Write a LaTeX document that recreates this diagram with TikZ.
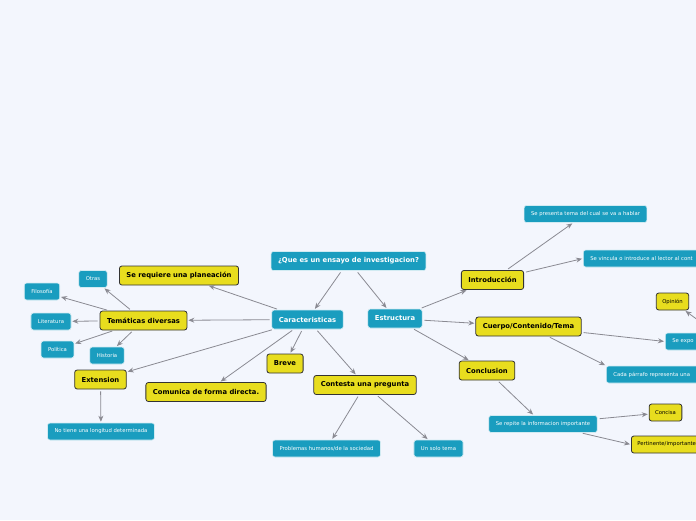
\documentclass[tikz,border=0pt]{standalone}
\usepackage{fontspec}
\setmainfont{DejaVu Sans}
\usetikzlibrary{arrows.meta,positioning}
\definecolor{fondo}{RGB}{243,246,253}
\definecolor{azul}{RGB}{26,157,191}
\definecolor{amar}{RGB}{232,221,30}
\definecolor{linea}{RGB}{138,138,146}

\begin{document}
\begin{tikzpicture}[x=1pt, y=-1pt,
  % Node styles
  hoja/.style={draw=white!80!azul, line width=0.6pt, rounded corners=2.5pt, fill=azul,
               text=white, font=\fontsize{5.3}{6}\selectfont, minimum height=17pt, inner xsep=7pt},
  rama/.style={hoja, font=\fontsize{6.8}{8}\selectfont\bfseries, minimum height=19pt, inner xsep=7pt},
  idea/.style={draw=black!80, line width=0.8pt, rounded corners=2.5pt, fill=amar,
               font=\fontsize{6.8}{8}\selectfont\bfseries, minimum height=19pt, inner xsep=7pt},
  dato/.style={idea, font=\fontsize{5.3}{6}\selectfont, minimum height=17pt, inner xsep=6pt},
  % Arrow style
  con/.style={-{Stealth[length=6pt, width=5pt, inset=2pt]}, draw=linea, line width=0.8pt,
              shorten <=2pt, shorten >=1pt},
]
\useasboundingbox[fill=fondo] (0,0) rectangle (696,520);

% === Centre ===
\node[rama] (Q)   at (348.5,261)   {¿Que es un ensayo de investigacion?};
\node[rama] (CAR) at (307.5,319.5) {Caracteristicas};
\node[rama] (EST) at (395,318.5)   {Estructura};

% === Caracteristicas ===
\node[idea] (PLA) at (179,275.5)   {Se requiere una planeación};
\node[idea] (TEM) at (143.5,320.5) {Temáticas diversas};
\node[idea] (EXT) at (100.5,379.5) {Extension};
\node[idea] (COM) at (206,392)     {Comunica de forma directa.};
\node[idea] (BRE) at (285,363.5)   {Breve};
\node[idea] (CPR) at (365,385)     {Contesta una pregunta};

\node[hoja] (OTR) at (93,279)      {Otras};
\node[hoja] (FIL) at (42,291.5)    {Filosofía};
\node[hoja] (LIT) at (51,321.5)    {Literatura};
\node[hoja] (POL) at (57.5,349.5)  {Política};
\node[hoja] (HIS) at (107,355.5)   {Historia};
\node[hoja] (LON) at (101,431.5)   {No tiene una longitud determinada};
\node[hoja] (PRO) at (326.5,448.5) {Problemas humanos/de la sociedad};
\node[hoja] (UNO) at (438.5,448.5) {Un solo tema};

% === Estructura ===
\node[idea] (INT) at (492.5,280)   {Introducción};
\node[idea] (CUE) at (528.5,326.5) {Cuerpo/Contenido/Tema};
\node[idea] (CON) at (487,370.5)   {Conclusion};

\node[hoja] (PRE) at (585.5,214)   {Se presenta tema del cual se va a hablar};
\node[hoja, anchor=west, text width=150pt, align=left] (VIN) at (583,258.5) {Se vincula o introduce al lector al cont};
\node[hoja, anchor=west, text width=110pt, align=left] (EXP) at (665,341.5) {Se expo};
\node[hoja, anchor=west, text width=140pt, align=left] (PAR) at (606,374.5) {Cada párrafo representa una};
\node[dato] (OPI) at (672.5,301.5) {Opinión};
\node[hoja] (REP) at (543,424)     {Se repite la informacion importante};
\node[dato] (CNC) at (665.5,412.5) {Concisa};
\node[dato, anchor=west, text width=80pt, align=left] (PER) at (631,444.5) {Pertinente/importante};

% === Arrows ===
\draw[con] (Q) -- (CAR);
\draw[con] (Q) -- (EST);

\draw[con] (CAR) -- (PLA);
\draw[con] (CAR) -- (TEM);
\draw[con] (CAR) -- (EXT);
\draw[con] (CAR) -- (COM);
\draw[con] (CAR) -- (BRE);
\draw[con] (CAR) -- (CPR);

\draw[con] (TEM) -- (OTR);
\draw[con] (TEM) -- (FIL);
\draw[con] (TEM) -- (LIT);
\draw[con] (TEM) -- (POL);
\draw[con] (TEM) -- (HIS);
\draw[con] (EXT) -- (LON);
\draw[con] (CPR) -- (PRO);
\draw[con] (CPR) -- (UNO);

\draw[con] (EST) -- (INT);
\draw[con] (EST) -- (CUE);
\draw[con] (EST) -- (CON);
\draw[con] (INT) -- (PRE);
\draw[con] (INT) -- (VIN.west);
\draw[con] (CUE) -- (EXP.west);
\draw[con] (CUE) -- (PAR.north west);
\draw[con] (EXP) -- (OPI);
\draw[con] (CON) -- (REP);
\draw[con] (REP) -- (CNC);
\draw[con] (REP) -- (PER.west);

\end{tikzpicture}
\end{document}
